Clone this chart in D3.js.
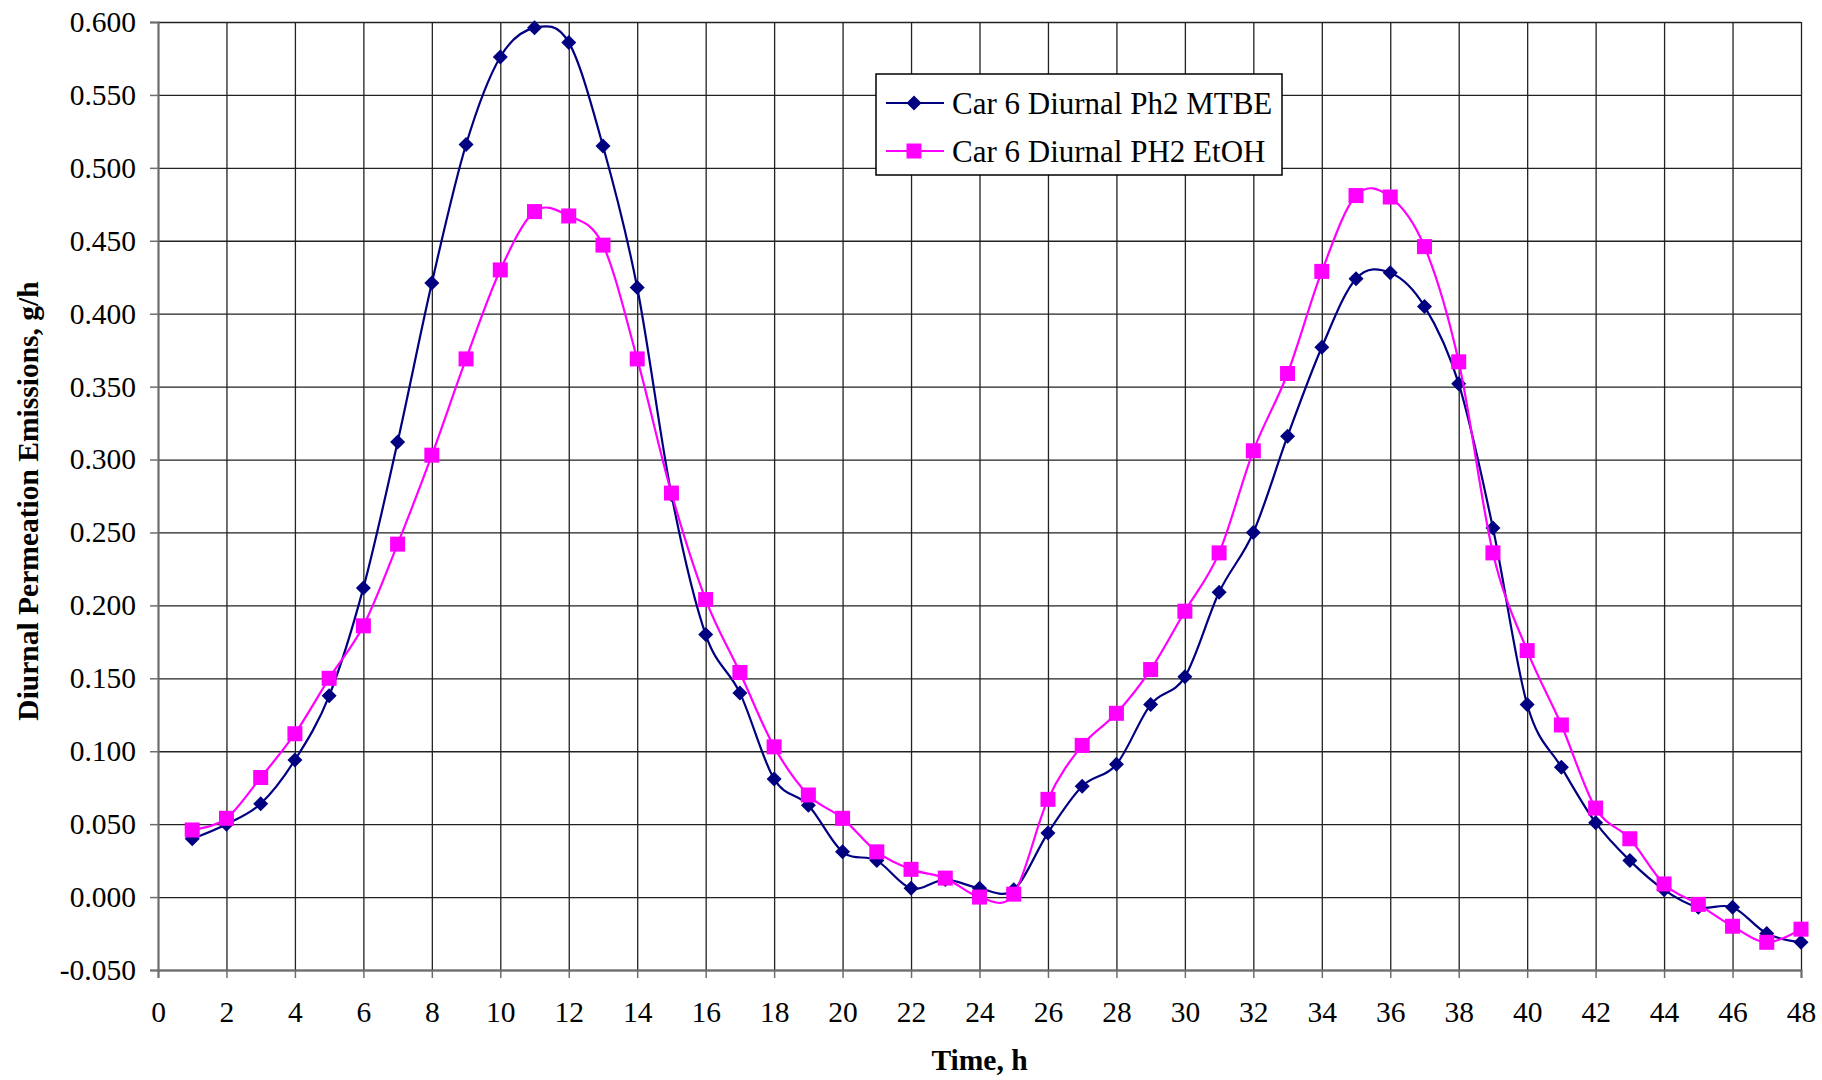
<!DOCTYPE html>
<html>
<head>
<meta charset="utf-8">
<script src="https://cdn.jsdelivr.net/npm/d3@7"></script>
<style>
  body { margin: 0; background: #fff; }
  svg { display: block; font-family: "Liberation Serif", "Times New Roman", serif; }
</style>
</head>
<body>
<svg id="chart" width="1822" height="1080"></svg>
<script>
// hours 1..48
const hours = d3.range(1, 49);

const mtbe = [
  0.040, 0.050, 0.064, 0.094, 0.138, 0.212, 0.312, 0.421, 0.516, 0.576,
  0.596, 0.586, 0.515, 0.418, 0.276, 0.180, 0.140, 0.081, 0.063, 0.031,
  0.025, 0.006, 0.012, 0.006, 0.005, 0.044, 0.076, 0.091, 0.132, 0.151,
  0.209, 0.250, 0.316, 0.377, 0.424, 0.428, 0.405, 0.352, 0.253, 0.132,
  0.089, 0.051, 0.025, 0.005, -0.007, -0.007, -0.025, -0.031
];

const etoh = [
  0.046, 0.054, 0.082, 0.112, 0.150, 0.186, 0.242, 0.303, 0.369, 0.430,
  0.470, 0.467, 0.447, 0.369, 0.277, 0.204, 0.154, 0.103, 0.070, 0.054,
  0.031, 0.019, 0.013, 0.000, 0.002, 0.067, 0.104, 0.126, 0.156, 0.196,
  0.236, 0.306, 0.359, 0.429, 0.481, 0.480, 0.446, 0.367, 0.236, 0.169,
  0.118, 0.061, 0.040, 0.009, -0.005, -0.020, -0.031, -0.022
];

const seriesNames = ["Car 6 Diurnal Ph2 MTBE", "Car 6 Diurnal PH2 EtOH"];
const xTicks = d3.range(0, 49, 2);
const yTicks = d3.range(-0.05, 0.6001, 0.05);

const svg = d3.select("#chart");
const margin = {left: 158, right: 21, top: 22, bottom: 110};
const width = 1822, height = 1080;

const x = d3.scaleLinear().domain([0, 48]).range([margin.left, width - margin.right]);
const y = d3.scaleLinear().domain([-0.05, 0.6]).range([height - margin.bottom, margin.top]);

// excel style labels: plain hyphen for negatives
const yFmt = d => d3.format(".3f")(d).replace("\u2212", "-");

/* grid */
svg.append("g")
    .attr("transform", `translate(0,${y(-0.05)})`)
    .call(d3.axisBottom(x).tickValues(xTicks).tickSize(-(y(-0.05) - y(0.6))).tickFormat(""))
    .call(g => g.select(".domain").remove())
    .call(g => g.selectAll("line").attr("stroke", "#222").attr("stroke-width", 1.3));

svg.append("g")
    .attr("transform", `translate(${x(0)},0)`)
    .call(d3.axisLeft(y).tickValues(yTicks).tickSize(-(x(48) - x(0))).tickFormat(""))
    .call(g => g.select(".domain").remove())
    .call(g => g.selectAll("line").attr("stroke", "#222").attr("stroke-width", 1.3));

/* axes */
const xAxis = svg.append("g")
    .attr("transform", `translate(0,${y(-0.05)})`)
    .call(d3.axisBottom(x).tickValues(xTicks).tickSize(8).tickPadding(23).tickFormat(d3.format("d")));

const yAxis = svg.append("g")
    .attr("transform", `translate(${x(0)},0)`)
    .call(d3.axisLeft(y).tickValues(yTicks).tickSize(8).tickPadding(14).tickFormat(yFmt));

[xAxis, yAxis].forEach(a => {
  a.select(".domain").attr("stroke", "#6e6e6e").attr("stroke-width", 2);
  a.selectAll(".tick line").attr("stroke", "#6e6e6e").attr("stroke-width", 1.5);
  a.selectAll("text")
    .attr("font-family", "Liberation Serif, Times New Roman, serif")
    .attr("font-size", 29.5)
    .attr("fill", "#000");
});

/* axis titles */
svg.append("text")
    .attr("x", (x(0) + x(48)) / 2)
    .attr("y", 1070)
    .attr("text-anchor", "middle")
    .attr("font-size", 29.5)
    .attr("font-weight", "bold")
    .text("Time, h");

svg.append("text")
    .attr("transform", "translate(38,501) rotate(-90)")
    .attr("text-anchor", "middle")
    .attr("font-size", 29.5)
    .attr("font-weight", "bold")
    .text("Diurnal Permeation Emissions, g/h");

/* series */
const line = d3.line()
    .x((d, i) => x(hours[i]))
    .y(d => y(d))
    .curve(d3.curveCatmullRom.alpha(0));

const diamond = s => `M0,${-s}L${s},0L0,${s}L${-s},0Z`;

function drawSeries(vals, color, kind) {
  svg.append("path")
      .datum(vals)
      .attr("fill", "none")
      .attr("stroke", color)
      .attr("stroke-width", 2.2)
      .attr("d", line);

  const g = svg.append("g");
  if (kind === "diamond") {
    g.selectAll("path").data(vals).join("path")
        .attr("transform", (d, i) => `translate(${x(hours[i])},${y(d)})`)
        .attr("d", diamond(7.5))
        .attr("fill", color);
  } else {
    g.selectAll("rect").data(vals).join("rect")
        .attr("x", (d, i) => x(hours[i]) - 7.5)
        .attr("y", d => y(d) - 7.5)
        .attr("width", 15)
        .attr("height", 15)
        .attr("fill", color);
  }
}

drawSeries(mtbe, "#000080", "diamond");
drawSeries(etoh, "#ff00ff", "square");

/* legend */
const legend = svg.append("g");
legend.append("rect")
    .attr("x", 876).attr("y", 74)
    .attr("width", 406).attr("height", 101)
    .attr("fill", "#fff")
    .attr("stroke", "#000")
    .attr("stroke-width", 1.5);

const legendRows = [
  {name: seriesNames[0], color: "#000080", kind: "diamond", y: 103},
  {name: seriesNames[1], color: "#ff00ff", kind: "square", y: 151}
];

legendRows.forEach(r => {
  legend.append("line")
      .attr("x1", 886).attr("x2", 944)
      .attr("y1", r.y).attr("y2", r.y)
      .attr("stroke", r.color).attr("stroke-width", 2.2);
  if (r.kind === "diamond") {
    legend.append("path")
        .attr("transform", `translate(914,${r.y})`)
        .attr("d", diamond(7.5))
        .attr("fill", r.color);
  } else {
    legend.append("rect")
        .attr("x", 906.5).attr("y", r.y - 7.5)
        .attr("width", 15).attr("height", 15)
        .attr("fill", r.color);
  }
  legend.append("text")
      .attr("x", 952)
      .attr("y", r.y)
      .attr("dy", "0.35em")
      .attr("font-size", 31)
      .text(r.name);
});
</script>
</body>
</html>
